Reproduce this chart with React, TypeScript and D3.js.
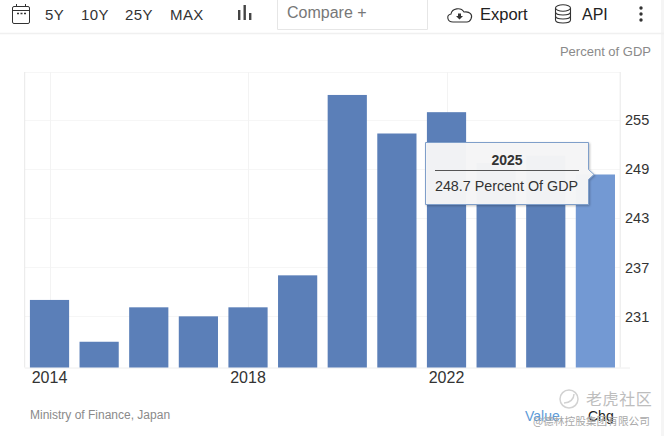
import { useEffect, useRef } from "react"
import * as d3 from "d3"

const years = ["2014", "2015", "2016", "2017", "2018", "2019", "2020", "2021", "2022", "2023", "2024", "2025"]
const values = [233.4, 228.3, 232.5, 231.4, 232.5, 236.4, 258.4, 253.7, 256.3, 250.1, 251.0, 248.7]
const yTicks = [231.4, 237.4, 243.4, 249.4, 255.4]
const xTicks = ["2014", "2018", "2022"]
const rangeButtons = ["5Y", "10Y", "25Y", "MAX"]
const rangeX = [45, 81, 125, 170]

const FONT = "'Liberation Sans', Arial, sans-serif"

export default function App() {
  const svgRef = useRef<SVGSVGElement>(null)

  useEffect(() => {
    if (!svgRef.current) return

    // Clear previous chart
    d3.select(svgRef.current).selectAll("*").remove()
    const svg = d3.select(svgRef.current).attr("font-family", FONT)

    const left = 24.7
    const right = 620.2
    const top = 72
    const bottom = 367.5

    const x = d3.scaleBand().domain(years).range([left, right]).paddingInner(0.21).paddingOuter(0.105)
    const y = d3.scaleLinear().domain([225.16, 261.2]).range([bottom, top])
    const center = (d: string) => (x(d) || 0) + x.bandwidth() / 2

    const defs = svg.append("defs")
    const shadow = defs.append("filter").attr("id", "tipShadow").attr("x", "-10%").attr("y", "-10%").attr("width", "120%").attr("height", "125%")
    shadow.append("feDropShadow").attr("dx", 1).attr("dy", 1).attr("stdDeviation", 1.2).attr("flood-color", "#000").attr("flood-opacity", 0.25)

    // Page edge
    svg.append("rect").attr("x", 661).attr("y", 0).attr("width", 3).attr("height", 436).attr("fill", "#f5f5f5")

    // Horizontal grid lines
    svg
      .append("g")
      .selectAll("line")
      .data([...yTicks, y.domain()[1]])
      .enter()
      .append("line")
      .attr("x1", left)
      .attr("x2", right)
      .attr("y1", (d) => Math.round(y(d)) + 0.5)
      .attr("y2", (d) => Math.round(y(d)) + 0.5)
      .attr("stroke", "#f6f6f6")

    // Vertical grid lines
    svg
      .append("g")
      .selectAll("line")
      .data(xTicks)
      .enter()
      .append("line")
      .attr("x1", (d) => Math.round(center(d)) + 0.5)
      .attr("x2", (d) => Math.round(center(d)) + 0.5)
      .attr("y1", top)
      .attr("y2", bottom)
      .attr("stroke", "#f3f3f3")

    // Plot borders
    svg.append("line").attr("x1", left).attr("x2", left).attr("y1", top).attr("y2", bottom).attr("stroke", "#e8e8e8")
    svg.append("line").attr("x1", right).attr("x2", right).attr("y1", top).attr("y2", bottom).attr("stroke", "#e8e8e8")
    svg.append("line").attr("x1", left).attr("x2", 630).attr("y1", bottom + 0.5).attr("y2", bottom + 0.5).attr("stroke", "#eeeeee")

    // Bars
    svg
      .selectAll(".bar")
      .data(years)
      .enter()
      .append("rect")
      .attr("class", "bar")
      .attr("x", (d) => x(d) || 0)
      .attr("y", (d, i) => y(values[i]))
      .attr("width", x.bandwidth())
      .attr("height", (d, i) => bottom - y(values[i]))
      .attr("fill", (d) => (d === "2025" ? "#7399d3" : "#5b7fb8"))

    // Y axis labels
    svg
      .append("g")
      .selectAll("text")
      .data(yTicks)
      .enter()
      .append("text")
      .attr("x", 625)
      .attr("y", (d) => y(d) + 5.5)
      .attr("font-size", 14.5)
      .attr("fill", "#333")
      .text((d) => d3.format(".0f")(d))

    // X axis labels
    svg
      .append("g")
      .selectAll("text")
      .data(xTicks)
      .enter()
      .append("text")
      .attr("x", (d) => center(d))
      .attr("y", 382.5)
      .attr("text-anchor", "middle")
      .attr("font-size", 16)
      .attr("fill", "#333")
      .text((d) => d)

    svg.append("text").attr("x", 651).attr("y", 56).attr("text-anchor", "end").attr("font-size", 13).attr("fill", "#8a8a8a").text("Percent of GDP")
    svg.append("text").attr("x", 30).attr("y", 419).attr("font-size", 12).attr("fill", "#8a8a8a").text("Ministry of Finance, Japan")
    svg.append("text").attr("x", 525).attr("y", 421).attr("font-size", 14).attr("fill", "#5d9bd8").text("Value")
    svg.append("text").attr("x", 588).attr("y", 421).attr("font-size", 14).attr("fill", "#222").text("Chg")

    // Toolbar
    const bar = svg.append("g")
    bar.append("line").attr("x1", 0).attr("x2", 664).attr("y1", 33.5).attr("y2", 33.5).attr("stroke", "#f0f0f0").attr("stroke-width", 1.5)
    bar
      .selectAll("text")
      .data(rangeButtons)
      .enter()
      .append("text")
      .attr("x", (d, i) => rangeX[i])
      .attr("y", 20)
      .attr("font-size", 15)
      .attr("letter-spacing", 0.4)
      .attr("fill", "#333")
      .text((d) => d)

    // Calendar icon
    const cal = bar.append("g").attr("fill", "none").attr("stroke", "#333").attr("stroke-width", 1)
    cal.append("rect").attr("x", 12.5).attr("y", 6.5).attr("width", 17).attr("height", 17).attr("rx", 1.5)
    cal.append("line").attr("x1", 12.5).attr("x2", 29.5).attr("y1", 10.5).attr("y2", 10.5)
    cal.append("line").attr("x1", 16.5).attr("x2", 16.5).attr("y1", 4).attr("y2", 7)
    cal.append("line").attr("x1", 25.5).attr("x2", 25.5).attr("y1", 4).attr("y2", 7)
    cal.append("line").attr("x1", 17).attr("x2", 26).attr("y1", 13.5).attr("y2", 13.5).attr("stroke-width", 1.5).attr("stroke-dasharray", "2 1.5")

    // Chart type icon
    const typeIcon = bar.append("g").attr("fill", "#444")
    typeIcon.append("rect").attr("x", 238).attr("y", 10).attr("width", 2.4).attr("height", 10)
    typeIcon.append("rect").attr("x", 243.5).attr("y", 5).attr("width", 2.4).attr("height", 15)
    typeIcon.append("rect").attr("x", 249).attr("y", 13).attr("width", 2.4).attr("height", 7)

    // Compare box
    bar.append("path").attr("d", "M277.5 0V29.5H427.5V0").attr("fill", "#fff").attr("stroke", "#e6e6e6")
    bar.append("text").attr("x", 287).attr("y", 18).attr("font-size", 16).attr("fill", "#777").text("Compare +")

    // Export icon
    bar
      .append("path")
      .attr("d", "M453 22C447 22 446 15 451 14C452 8 461 7 464 12C470 11 473 15 471 19C470 21 469 22 467 22Z")
      .attr("fill", "none")
      .attr("stroke", "#333")
      .attr("stroke-width", 1.1)
    bar.append("path").attr("d", "M458 13.5H461V16H463L459.5 19.5L456 16H458Z").attr("fill", "#333")
    bar.append("text").attr("x", 480).attr("y", 19.5).attr("font-size", 16.5).attr("fill", "#222").text("Export")

    // API icon
    const db = bar.append("g").attr("fill", "none").attr("stroke", "#333").attr("stroke-width", 1.1)
    db.append("ellipse").attr("cx", 563).attr("cy", 8).attr("rx", 7.5).attr("ry", 3.2)
    db.append("path").attr("d", "M555.5 8V20C555.5 24 570.5 24 570.5 20V8")
    db.append("path").attr("d", "M555.5 12C555.5 16 570.5 16 570.5 12")
    db.append("path").attr("d", "M555.5 16C555.5 20 570.5 20 570.5 16")
    bar.append("text").attr("x", 582).attr("y", 19.5).attr("font-size", 16).attr("fill", "#222").text("API")
    bar
      .append("g")
      .selectAll("circle")
      .data([8, 14, 20])
      .enter()
      .append("circle")
      .attr("cx", 641)
      .attr("cy", (d) => d)
      .attr("r", 1.7)
      .attr("fill", "#333")

    // Tooltip for the last bar
    const lastIndex = years.length - 1
    const tipY = y(values[lastIndex])
    const tip = svg.append("g")
    tip
      .append("path")
      .attr("d", `M425.5 142.5H588.5V${tipY - 5}L594 ${tipY}L588.5 ${tipY + 5}V204.5H425.5Z`)
      .attr("fill", "#f6f6f7")
      .attr("fill-opacity", 0.97)
      .attr("stroke", "#7f9fca")
      .attr("filter", "url(#tipShadow)")
    tip.append("text").attr("x", 507).attr("y", 165).attr("text-anchor", "middle").attr("font-size", 14).attr("font-weight", "bold").attr("fill", "#333").text(years[lastIndex])
    tip.append("line").attr("x1", 435).attr("x2", 579).attr("y1", 170.5).attr("y2", 170.5).attr("stroke", "#555")
    tip.append("text").attr("x", 506.5).attr("y", 191).attr("text-anchor", "middle").attr("font-size", 14.3).attr("fill", "#333").text(`${values[lastIndex]} Percent Of GDP`)

    // Watermark
    const mark = svg.append("g").attr("fill", "#bdbdbd")
    mark.append("circle").attr("cx", 569).attr("cy", 399).attr("r", 9).attr("fill", "none").attr("stroke", "#d2d2d2").attr("stroke-width", 1.5)
    mark.append("path").attr("d", "M564 403C570 403 574 399 574 394").attr("fill", "none").attr("stroke", "#d2d2d2").attr("stroke-width", 1.5)
    mark.append("text").attr("x", 586).attr("y", 405).attr("font-size", 16).attr("letter-spacing", 0.6).attr("font-family", "'Noto Sans CJK SC'").text("老虎社区")
    mark.append("text").attr("x", 533).attr("y", 425).attr("font-size", 10.7).attr("font-family", "'Noto Sans CJK SC'").attr("fill", "#a8a8a8").text("@德林控股集团有限公司")
  }, [])

  return <svg ref={svgRef} width={664} height={436} style={{ position: "absolute", left: 0, top: 0 }}></svg>
}
